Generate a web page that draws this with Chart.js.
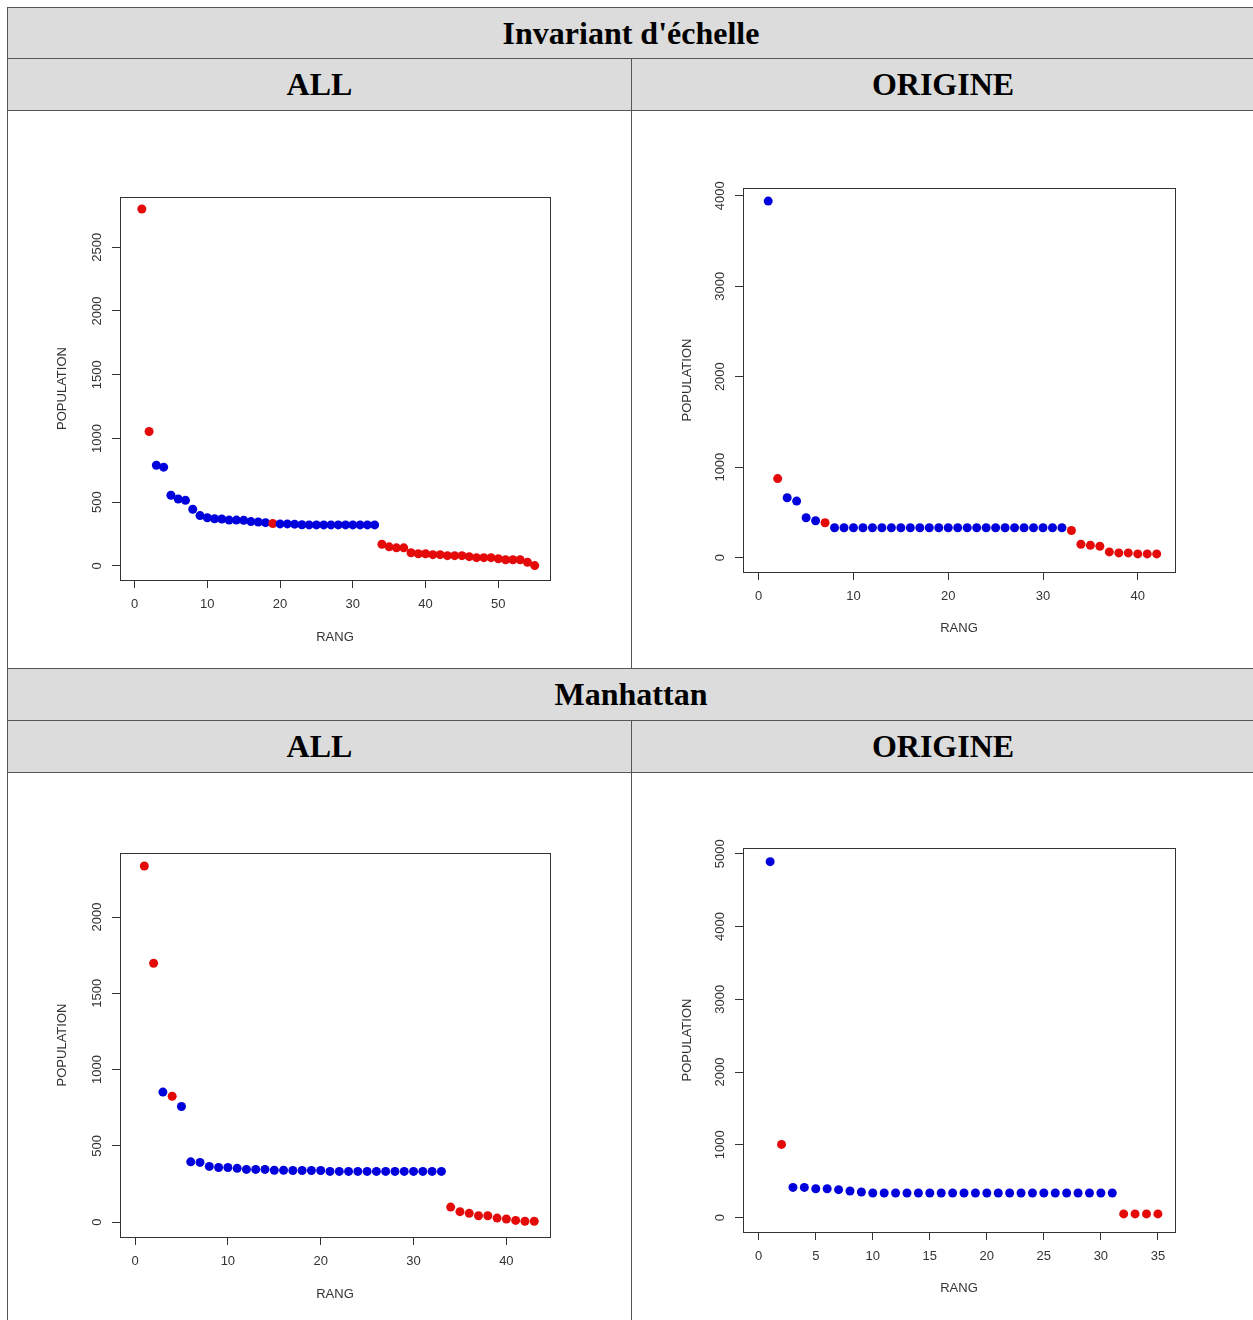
<!DOCTYPE html>
<html>
<head>
<meta charset="utf-8">
<script src="https://cdn.jsdelivr.net/npm/chart.js@4.4.0/dist/chart.umd.min.js"></script>
<style>
  body { margin: 0; background: #fff; width: 1253px; height: 1320px; overflow: hidden; position: relative; }
  .cell { position: absolute; box-sizing: border-box; border: 1px solid #555; }
  .hd { background: #dcdcdc; font: bold 32px "Liberation Serif", "Times New Roman", serif; color: #000;
        display: flex; align-items: center; justify-content: center; }
  canvas { position: absolute; }
</style>
</head>
<body>
<div class="cell hd" style="left:7px;top:7px;width:1248px;height:52px">Invariant d'échelle</div>
<div class="cell hd" style="left:7px;top:58px;width:625px;height:53px">ALL</div>
<div class="cell hd" style="left:631px;top:58px;width:624px;height:53px">ORIGINE</div>
<div class="cell" style="left:7px;top:110px;width:625px;height:559px"></div>
<div class="cell" style="left:631px;top:110px;width:624px;height:559px"></div>
<div class="cell hd" style="left:7px;top:668px;width:1248px;height:53px">Manhattan</div>
<div class="cell hd" style="left:7px;top:720px;width:625px;height:53px">ALL</div>
<div class="cell hd" style="left:631px;top:720px;width:624px;height:53px">ORIGINE</div>
<div class="cell" style="left:7px;top:772px;width:625px;height:600px"></div>
<div class="cell" style="left:631px;top:772px;width:624px;height:600px"></div>

<canvas id="c1" width="622" height="556" style="left:8px;top:111px"></canvas>
<canvas id="c2" width="621" height="556" style="left:632px;top:111px"></canvas>
<canvas id="c3" width="622" height="547" style="left:8px;top:773px"></canvas>
<canvas id="c4" width="621" height="547" style="left:632px;top:773px"></canvas>

<script>
// population by rank (rank = position in list, starting at 1)
const popInvAll = [2800, 1055, 790, 775, 555, 525, 515, 445, 395, 378,
                   370, 368, 360, 360, 358, 348, 345, 340, 333, 330,
                   330, 328, 323, 322, 322, 322, 322, 322, 322, 322,
                   322, 322, 322, 170, 150, 142, 142, 104, 96, 96,
                   89, 89, 81, 81, 81, 73, 65, 65, 65, 57,
                   49, 49, 49, 29, 3];
const redInvAll = [1, 2, 19, 34, 35, 36, 37, 38, 39, 40, 41, 42, 43, 44,
                   45, 46, 47, 48, 49, 50, 51, 52, 53, 54, 55];

const popInvOrig = [3940, 873, 662, 625, 440, 407, 385, 330, 330, 330,
                    330, 330, 330, 330, 330, 330, 330, 330, 330, 330,
                    330, 330, 330, 330, 330, 330, 330, 330, 330, 330,
                    330, 330, 300, 148, 137, 126, 63, 52, 52, 41,
                    41, 41];
const redInvOrig = [2, 7, 33, 34, 35, 36, 37, 38, 39, 40, 41, 42];

const popManAll = [2335, 1697, 852, 825, 758, 395, 391, 365, 358, 358,
                   352, 345, 345, 345, 340, 340, 338, 338, 338, 338,
                   332, 332, 332, 332, 332, 332, 332, 332, 332, 332,
                   332, 332, 332, 98, 68, 57, 41, 41, 26, 20,
                   11, 5, 5];
const redManAll = [1, 2, 4, 34, 35, 36, 37, 38, 39, 40, 41, 42, 43];

const popManOrig = [4890, 1005, 415, 415, 397, 397, 384, 366, 352, 338,
                    338, 338, 338, 338, 338, 338, 338, 338, 338, 338,
                    338, 338, 338, 338, 338, 338, 338, 338, 338, 338,
                    338, 51, 51, 51, 51];
const redManOrig = [2, 32, 33, 34, 35];

// tick labels
const xTicksInvAll = [0, 10, 20, 30, 40, 50];
const yTicksInvAll = [0, 500, 1000, 1500, 2000, 2500];
const xTicksInvOrig = [0, 10, 20, 30, 40];
const yTicksInvOrig = [0, 1000, 2000, 3000, 4000];
const xTicksManAll = [0, 10, 20, 30, 40];
const yTicksManAll = [0, 500, 1000, 1500, 2000];
const xTicksManOrig = [0, 5, 10, 15, 20, 25, 30, 35];
const yTicksManOrig = [0, 1000, 2000, 3000, 4000, 5000];

const RED = 'rgb(228,10,10)';
const BLUE = 'rgb(0,0,220)';
const INK = '#333';
const FONT = { family: '"Liberation Sans", Arial, sans-serif', size: 13 };

// R-style frame + vertical y tick labels
const frame = {
  id: 'frame',
  afterDraw(chart) {
    const { ctx, chartArea: a } = chart;
    const ys = chart.scales.y;
    ctx.save();
    ctx.strokeStyle = INK;
    ctx.lineWidth = 1;
    ctx.strokeRect(a.left + 0.5, a.top + 0.5, a.right - a.left, a.bottom - a.top);
    ctx.fillStyle = INK;
    ctx.font = '13px "Liberation Sans", Arial, sans-serif';
    ctx.textAlign = 'center';
    ctx.textBaseline = 'middle';
    ys.ticks.forEach(t => {
      const y = ys.getPixelForValue(t.value);
      ctx.save();
      ctx.translate(a.left - 23, y);
      ctx.rotate(-Math.PI / 2);
      ctx.fillText(String(t.value), 0, 0);
      ctx.restore();
    });
    ctx.restore();
  }
};

function rankPlot(id, pop, red, xTicks, yTicks, xr, yr, box) {
  const cv = document.getElementById(id);
  const W = cv.width, H = cv.height;
  const pts = pop.map((v, i) => ({ x: i + 1, y: v }));
  const cols = pop.map((v, i) => red.includes(i + 1) ? RED : BLUE);
  new Chart(cv, {
    type: 'scatter',
    data: {
      datasets: [{
        data: pts,
        pointRadius: 4.5,
        pointHoverRadius: 4.5,
        pointBackgroundColor: cols,
        pointBorderColor: cols,
        pointBorderWidth: 0
      }]
    },
    options: {
      responsive: false,
      animation: false,
      events: [],
      layout: { padding: { left: 0, top: box.top, right: W - box.right, bottom: 0 } },
      plugins: { legend: { display: false }, tooltip: { enabled: false } },
      scales: {
        x: {
          type: 'linear', min: xr[0], max: xr[1],
          afterBuildTicks: s => { s.ticks = xTicks.map(v => ({ value: v })); },
          afterFit: s => { s.height = H - box.bottom; },
          grid: { drawOnChartArea: false, drawTicks: true, tickLength: 8, color: INK },
          border: { display: false },
          ticks: { color: INK, font: FONT, padding: 9, maxRotation: 0, autoSkip: false },
          title: { display: true, text: 'RANG', color: INK, font: FONT, padding: { top: 0, bottom: box.xt } }
        },
        y: {
          type: 'linear', min: yr[0], max: yr[1],
          afterBuildTicks: s => { s.ticks = yTicks.map(v => ({ value: v })); },
          afterFit: s => { s.width = box.left; },
          grid: { drawOnChartArea: false, drawTicks: true, tickLength: 8, color: INK },
          border: { display: false },
          ticks: { display: false },
          title: { display: true, text: 'POPULATION', color: INK, font: FONT, padding: { top: box.yt, bottom: 0 } }
        }
      }
    },
    plugins: [frame]
  });
}

rankPlot('c1', popInvAll, redInvAll, xTicksInvAll, yTicksInvAll, [-2.0, 57.1], [-110, 2894],
         { left: 112, right: 542, top: 86, bottom: 469, xt: 22, yt: 47 });
rankPlot('c2', popInvOrig, redInvOrig, xTicksInvOrig, yTicksInvOrig, [-1.66, 43.93], [-159, 4085],
         { left: 111, right: 543, top: 77, bottom: 461, xt: 31, yt: 48 });
rankPlot('c3', popManAll, redManAll, xTicksManAll, yTicksManAll, [-1.62, 44.7], [-98, 2420],
         { left: 112, right: 542, top: 80, bottom: 464, xt: 18, yt: 47 });
rankPlot('c4', popManOrig, redManOrig, xTicksManOrig, yTicksManOrig, [-1.38, 36.5], [-198, 5078],
         { left: 111, right: 543, top: 75, bottom: 459, xt: 24, yt: 48 });
</script>
</body>
</html>
